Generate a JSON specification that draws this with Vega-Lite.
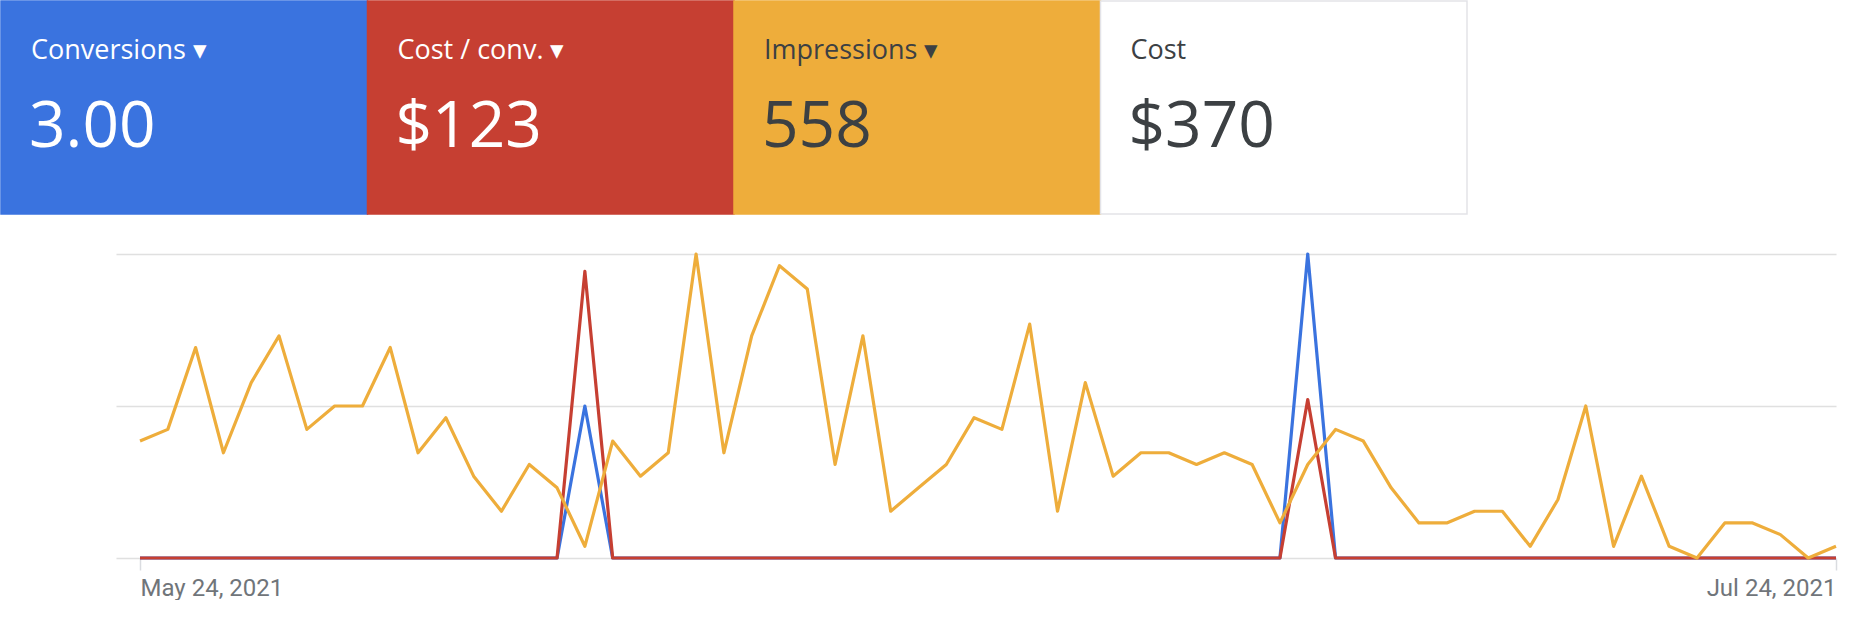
{
  "$schema": "https://vega.github.io/schema/vega-lite/v6.json",
  "padding": 0,
  "background": "white",
  "spacing": 37,
  "config": {"view": {"stroke": null}, "font": "Roboto"},
  "vconcat": [
    {
      "width": 1466,
      "height": 213,
      "data": {"values": [
        {"name": "Conversions", "title": "Conversions  ▾", "value": "3.00"},
        {"name": "Cost / conv.", "title": "Cost / conv.  ▾", "value": "$123"},
        {"name": "Impressions", "title": "Impressions  ▾", "value": "558"},
        {"name": "Cost", "title": "Cost", "value": "$370"}
      ]},
      "encoding": {
        "x": {"field": "name", "type": "nominal", "sort": null,
          "scale": {"domain": ["Conversions", "Cost / conv.", "Impressions", "Cost"], "paddingInner": 0, "paddingOuter": 0, "range": [-115, 1351]}, "axis": null}
      },
      "layer": [
        {
          "mark": {"type": "rect", "strokeWidth": 1.5},
          "encoding": {
            "color": {"field": "name", "type": "nominal", "sort": null, "legend": null,
              "scale": {"domain": ["Conversions", "Cost / conv.", "Impressions", "Cost"], "range": ["#3A73DF", "#C63F32", "#EEAD3B", "#FFFFFF"]}},
            "stroke": {"field": "name", "type": "nominal", "sort": null, "legend": null,
              "scale": {"domain": ["Conversions", "Cost / conv.", "Impressions", "Cost"], "range": ["#3A73DF", "#C63F32", "#EEAD3B", "#E3E3E8"]}}
          }
        },
        {
          "mark": {"type": "text", "font": "Open Sans", "fontSize": 27, "align": "left", "baseline": "alphabetic", "dx": 30, "dy": -49},
          "encoding": {
            "x": {"field": "name", "type": "nominal", "sort": null, "bandPosition": 0},
            "text": {"field": "title"},
            "color": {"condition": {"test": "datum.name == 'Conversions' || datum.name == 'Cost / conv.'", "value": "#FFFFFF"}, "value": "#3C4043"}
          }
        },
        {
          "mark": {"type": "text", "font": "Open Sans", "fontSize": 64, "align": "left", "baseline": "alphabetic", "dx": 28, "dy": 39.5},
          "encoding": {
            "x": {"field": "name", "type": "nominal", "sort": null, "bandPosition": 0},
            "text": {"field": "value"},
            "color": {"condition": {"test": "datum.name == 'Conversions' || datum.name == 'Cost / conv.'", "value": "#FFFFFF"}, "value": "#3C4043"}
          }
        }
      ]
    },
    {
      "width": 1720,
      "height": 304,
      "data": {"values": [
        {"date": "2021-05-24", "conversions": 0, "cost_per_conv": 0, "impressions": 10},
        {"date": "2021-05-25", "conversions": 0, "cost_per_conv": 0, "impressions": 11},
        {"date": "2021-05-26", "conversions": 0, "cost_per_conv": 0, "impressions": 18},
        {"date": "2021-05-27", "conversions": 0, "cost_per_conv": 0, "impressions": 9},
        {"date": "2021-05-28", "conversions": 0, "cost_per_conv": 0, "impressions": 15},
        {"date": "2021-05-29", "conversions": 0, "cost_per_conv": 0, "impressions": 19},
        {"date": "2021-05-30", "conversions": 0, "cost_per_conv": 0, "impressions": 11},
        {"date": "2021-05-31", "conversions": 0, "cost_per_conv": 0, "impressions": 13},
        {"date": "2021-06-01", "conversions": 0, "cost_per_conv": 0, "impressions": 13},
        {"date": "2021-06-02", "conversions": 0, "cost_per_conv": 0, "impressions": 18},
        {"date": "2021-06-03", "conversions": 0, "cost_per_conv": 0, "impressions": 9},
        {"date": "2021-06-04", "conversions": 0, "cost_per_conv": 0, "impressions": 12},
        {"date": "2021-06-05", "conversions": 0, "cost_per_conv": 0, "impressions": 7},
        {"date": "2021-06-06", "conversions": 0, "cost_per_conv": 0, "impressions": 4},
        {"date": "2021-06-07", "conversions": 0, "cost_per_conv": 0, "impressions": 8},
        {"date": "2021-06-08", "conversions": 0, "cost_per_conv": 0, "impressions": 6},
        {"date": "2021-06-09", "conversions": 1, "cost_per_conv": 150.9, "impressions": 1},
        {"date": "2021-06-10", "conversions": 0, "cost_per_conv": 0, "impressions": 10},
        {"date": "2021-06-11", "conversions": 0, "cost_per_conv": 0, "impressions": 7},
        {"date": "2021-06-12", "conversions": 0, "cost_per_conv": 0, "impressions": 9},
        {"date": "2021-06-13", "conversions": 0, "cost_per_conv": 0, "impressions": 26},
        {"date": "2021-06-14", "conversions": 0, "cost_per_conv": 0, "impressions": 9},
        {"date": "2021-06-15", "conversions": 0, "cost_per_conv": 0, "impressions": 19},
        {"date": "2021-06-16", "conversions": 0, "cost_per_conv": 0, "impressions": 25},
        {"date": "2021-06-17", "conversions": 0, "cost_per_conv": 0, "impressions": 23},
        {"date": "2021-06-18", "conversions": 0, "cost_per_conv": 0, "impressions": 8},
        {"date": "2021-06-19", "conversions": 0, "cost_per_conv": 0, "impressions": 19},
        {"date": "2021-06-20", "conversions": 0, "cost_per_conv": 0, "impressions": 4},
        {"date": "2021-06-21", "conversions": 0, "cost_per_conv": 0, "impressions": 6},
        {"date": "2021-06-22", "conversions": 0, "cost_per_conv": 0, "impressions": 8},
        {"date": "2021-06-23", "conversions": 0, "cost_per_conv": 0, "impressions": 12},
        {"date": "2021-06-24", "conversions": 0, "cost_per_conv": 0, "impressions": 11},
        {"date": "2021-06-25", "conversions": 0, "cost_per_conv": 0, "impressions": 20},
        {"date": "2021-06-26", "conversions": 0, "cost_per_conv": 0, "impressions": 4},
        {"date": "2021-06-27", "conversions": 0, "cost_per_conv": 0, "impressions": 15},
        {"date": "2021-06-28", "conversions": 0, "cost_per_conv": 0, "impressions": 7},
        {"date": "2021-06-29", "conversions": 0, "cost_per_conv": 0, "impressions": 9},
        {"date": "2021-06-30", "conversions": 0, "cost_per_conv": 0, "impressions": 9},
        {"date": "2021-07-01", "conversions": 0, "cost_per_conv": 0, "impressions": 8},
        {"date": "2021-07-02", "conversions": 0, "cost_per_conv": 0, "impressions": 9},
        {"date": "2021-07-03", "conversions": 0, "cost_per_conv": 0, "impressions": 8},
        {"date": "2021-07-04", "conversions": 0, "cost_per_conv": 0, "impressions": 3},
        {"date": "2021-07-05", "conversions": 2, "cost_per_conv": 83.4, "impressions": 8},
        {"date": "2021-07-06", "conversions": 0, "cost_per_conv": 0, "impressions": 11},
        {"date": "2021-07-07", "conversions": 0, "cost_per_conv": 0, "impressions": 10},
        {"date": "2021-07-08", "conversions": 0, "cost_per_conv": 0, "impressions": 6},
        {"date": "2021-07-09", "conversions": 0, "cost_per_conv": 0, "impressions": 3},
        {"date": "2021-07-10", "conversions": 0, "cost_per_conv": 0, "impressions": 3},
        {"date": "2021-07-11", "conversions": 0, "cost_per_conv": 0, "impressions": 4},
        {"date": "2021-07-12", "conversions": 0, "cost_per_conv": 0, "impressions": 4},
        {"date": "2021-07-13", "conversions": 0, "cost_per_conv": 0, "impressions": 1},
        {"date": "2021-07-14", "conversions": 0, "cost_per_conv": 0, "impressions": 5},
        {"date": "2021-07-15", "conversions": 0, "cost_per_conv": 0, "impressions": 13},
        {"date": "2021-07-16", "conversions": 0, "cost_per_conv": 0, "impressions": 1},
        {"date": "2021-07-17", "conversions": 0, "cost_per_conv": 0, "impressions": 7},
        {"date": "2021-07-18", "conversions": 0, "cost_per_conv": 0, "impressions": 1},
        {"date": "2021-07-19", "conversions": 0, "cost_per_conv": 0, "impressions": 0},
        {"date": "2021-07-20", "conversions": 0, "cost_per_conv": 0, "impressions": 3},
        {"date": "2021-07-21", "conversions": 0, "cost_per_conv": 0, "impressions": 3},
        {"date": "2021-07-22", "conversions": 0, "cost_per_conv": 0, "impressions": 2},
        {"date": "2021-07-23", "conversions": 0, "cost_per_conv": 0, "impressions": 0},
        {"date": "2021-07-24", "conversions": 0, "cost_per_conv": 0, "impressions": 1}
      ]},
      "encoding": {
        "x": {
          "field": "date", "type": "temporal",
          "scale": {"type": "utc", "domain": [1621739760000, 1627084800000]},
          "axis": {
            "title": null,
            "values": [1621814400000, 1627084800000],
            "format": "%b %-d, %Y",
            "domain": false, "grid": false,
            "ticks": true, "tickColor": "#DADCE0", "tickSize": 12, "tickWidth": 1.5,
            "labelFont": "Roboto", "labelFontSize": 24, "labelColor": "#70757A", "labelPadding": 6,
            "labelAlign": {"condition": {"test": "datum.value < 1625000000000", "value": "left"}, "value": "right"},
            "labelOverlap": false, "labelBound": false, "labelFlush": false
          }
        }
      },
      "layer": [
        {
          "mark": {"type": "line", "color": "#3A73DF", "strokeWidth": 3.2, "strokeJoin": "round"},
          "encoding": {"y": {"field": "conversions", "type": "quantitative", "scale": {"domain": [0, 2]}, "axis": null}}
        },
        {
          "mark": {"type": "line", "color": "#C63F32", "strokeWidth": 3.2, "strokeJoin": "round"},
          "encoding": {"y": {"field": "cost_per_conv", "type": "quantitative", "scale": {"domain": [0, 160]}, "axis": null}}
        },
        {
          "mark": {"type": "line", "color": "#EEAD3B", "strokeWidth": 3.2, "strokeJoin": "round"},
          "encoding": {"y": {"field": "impressions", "type": "quantitative", "scale": {"domain": [0, 26]},
            "axis": {"title": null, "values": [0, 13, 26], "grid": true, "gridColor": "#E0E0E0", "gridWidth": 1.5,
              "labels": false, "ticks": false, "domain": false, "minExtent": 115, "maxExtent": 115}}}
        }
      ],
      "resolve": {"scale": {"y": "independent"}}
    }
  ]
}
